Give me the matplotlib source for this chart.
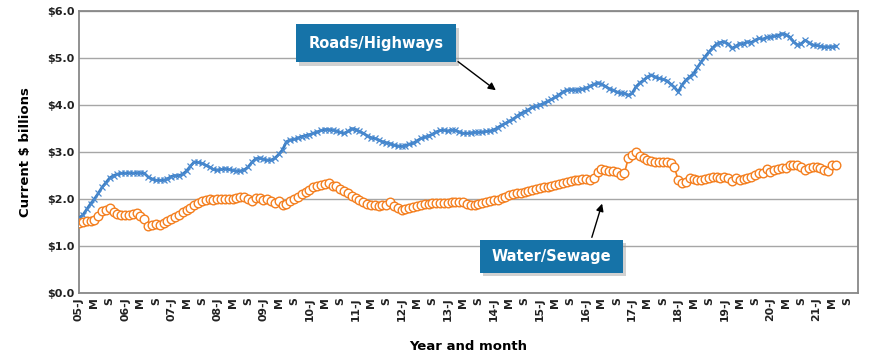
import matplotlib
matplotlib.use("Agg")
import matplotlib.pyplot as plt
from matplotlib.patches import Rectangle
import numpy as np

# monthly values, Jan 2005 .. Jun 2021 (current $ billions)
roads = [
    1.60, 1.66, 1.78, 1.90, 2.00, 2.12, 2.25, 2.35, 2.45, 2.50, 2.53, 2.55,  # 2005
    2.55, 2.56, 2.55, 2.56, 2.56, 2.55, 2.47, 2.43, 2.40, 2.40, 2.40, 2.43,  # 2006
    2.48, 2.50, 2.50, 2.53, 2.60, 2.70, 2.79, 2.78, 2.76, 2.72, 2.68, 2.63,  # 2007
    2.62, 2.63, 2.65, 2.63, 2.61, 2.60, 2.60, 2.62, 2.68, 2.78, 2.86, 2.87,  # 2008
    2.85, 2.83, 2.83, 2.87, 2.95, 3.05, 3.22, 3.26, 3.27, 3.30, 3.33, 3.35,  # 2009
    3.37, 3.40, 3.43, 3.46, 3.48, 3.48, 3.47, 3.45, 3.42, 3.40, 3.44, 3.50,  # 2010
    3.48, 3.44, 3.40, 3.35, 3.31, 3.29, 3.26, 3.22, 3.20, 3.18, 3.15, 3.13,  # 2011
    3.12, 3.14, 3.17, 3.19, 3.24, 3.29, 3.32, 3.34, 3.38, 3.43, 3.46, 3.47,  # 2012
    3.45, 3.47, 3.46, 3.43, 3.40, 3.40, 3.41, 3.42, 3.42, 3.43, 3.44, 3.45,  # 2013
    3.47, 3.52, 3.57, 3.61, 3.66, 3.70, 3.76, 3.82, 3.86, 3.90, 3.95, 3.98,  # 2014
    4.00, 4.04, 4.08, 4.12, 4.17, 4.22, 4.28, 4.32, 4.33, 4.32, 4.33, 4.34,  # 2015
    4.36, 4.40, 4.44, 4.47, 4.45, 4.40, 4.35, 4.32, 4.28, 4.26, 4.25, 4.21,  # 2016
    4.25, 4.39, 4.47, 4.53, 4.60, 4.64, 4.60, 4.57, 4.55, 4.52, 4.45, 4.38,  # 2017
    4.28, 4.43, 4.53, 4.60, 4.67, 4.80, 4.92, 5.03, 5.13, 5.22, 5.30, 5.33,  # 2018
    5.35, 5.30, 5.21, 5.25, 5.31, 5.30, 5.35, 5.33, 5.38, 5.42, 5.40, 5.44,  # 2019
    5.45, 5.47, 5.48, 5.52, 5.50, 5.45, 5.35, 5.28, 5.30, 5.38, 5.33, 5.28,  # 2020
    5.27, 5.25, 5.24, 5.24, 5.24, 5.25,                                      # 2021
]

water = [
    1.50, 1.52, 1.53, 1.53, 1.55, 1.65, 1.75, 1.77, 1.80, 1.72, 1.68, 1.67,  # 2005
    1.66, 1.67, 1.68, 1.70, 1.65, 1.58, 1.43, 1.45, 1.47, 1.45, 1.50, 1.53,  # 2006
    1.57, 1.62, 1.67, 1.72, 1.76, 1.80, 1.87, 1.92, 1.95, 1.98, 2.00, 1.97,  # 2007
    2.00, 2.00, 2.00, 2.00, 2.01, 2.03, 2.05, 2.04, 2.00, 1.96, 2.03, 2.02,  # 2008
    1.98, 2.00, 1.96, 1.92, 1.95, 1.88, 1.90, 1.95, 2.00, 2.05, 2.10, 2.15,  # 2009
    2.20, 2.25, 2.28, 2.30, 2.32, 2.35, 2.27, 2.28, 2.22, 2.18, 2.12, 2.07,  # 2010
    2.02, 1.97, 1.93, 1.90, 1.88, 1.87, 1.86, 1.87, 1.88, 1.93, 1.85, 1.80,  # 2011
    1.77, 1.79, 1.80, 1.83, 1.85, 1.87, 1.89, 1.90, 1.91, 1.91, 1.91, 1.92,  # 2012
    1.92, 1.93, 1.93, 1.94, 1.93, 1.90, 1.87, 1.88, 1.90, 1.92, 1.93, 1.95,  # 2013
    1.97, 1.99, 2.02, 2.05, 2.08, 2.10, 2.12, 2.14, 2.15, 2.17, 2.20, 2.22,  # 2014
    2.23, 2.25, 2.26, 2.28, 2.30, 2.33, 2.35, 2.37, 2.38, 2.40, 2.41, 2.42,  # 2015
    2.42, 2.40, 2.45, 2.58, 2.63, 2.61, 2.60, 2.59, 2.57, 2.51, 2.55, 2.87,  # 2016
    2.94, 3.00, 2.92, 2.87, 2.83, 2.80, 2.79, 2.78, 2.78, 2.78, 2.77, 2.68,  # 2017
    2.40, 2.35, 2.37, 2.44, 2.43, 2.40, 2.40, 2.43, 2.44, 2.47, 2.47, 2.45,  # 2018
    2.47, 2.45, 2.38, 2.44, 2.40, 2.42, 2.44, 2.48, 2.51, 2.55, 2.56, 2.64,  # 2019
    2.58, 2.62, 2.65, 2.67, 2.66, 2.72, 2.73, 2.73, 2.68, 2.62, 2.66, 2.68,  # 2020
    2.68, 2.67, 2.62, 2.60, 2.72, 2.73,                                      # 2021
]

years = [f"{y:02d}" for y in range(5, 22)]
tick_labels = []
for yy in years:
    tick_labels += [f"{yy}-J", "M", "S"]

y_ticks = [0, 1, 2, 3, 4, 5, 6]

BLUE = "#3a7cc0"
ORANGE = "#f47f1f"
BOX = "#1673a8"
FONT = "DejaVu Sans"

fig = plt.figure(figsize=(8.7, 3.57), dpi=100)
ax = fig.add_axes([0.0908, 0.179, 0.8954, 0.790])

x = np.arange(len(roads))
ax.plot(x, roads, color=BLUE, lw=2.0, marker="x", ms=4.8, mew=0.9,
        mec="#4a8ad0", zorder=3)
x2 = np.arange(len(water))
ax.plot(x2, water, color=ORANGE, lw=1.2, marker="o", ms=6.2, mew=1.0,
        mec=ORANGE, mfc="white", zorder=3)

ax.set_xlim(0, 202.8)
ax.set_ylim(0, 6)
ax.set_yticks(y_ticks)
ax.set_yticklabels([f"${v:.1f}" for v in y_ticks], fontsize=8,
                   fontweight="bold", family=FONT, color="#222222")
ax.set_xticks(np.arange(len(tick_labels)) * 4)
ax.set_xticklabels(tick_labels, rotation=90, fontsize=7.8,
                   fontweight="bold", family=FONT, color="#222222")
ax.tick_params(axis="both", length=0, pad=3)

ax.grid(axis="y", color="#a6a6a6", lw=1.0)
ax.set_axisbelow(True)
for s in ax.spines.values():
    s.set_color("#888888")
    s.set_linewidth(1.3)

ax.set_ylabel("Current $ billions", fontsize=9.5, fontweight="bold",
              family=FONT, labelpad=11)
ax.set_xlabel("Year and month", fontsize=9.5, fontweight="bold",
              family=FONT, labelpad=14)


def callout(x0, x1, y0, y1, label):
    ax.add_patch(Rectangle((x0 + 0.9, y0 - 0.07), x1 - x0, y1 - y0,
                           facecolor="#999999", alpha=0.45, lw=0, zorder=4))
    ax.add_patch(Rectangle((x0, y0), x1 - x0, y1 - y0, facecolor=BOX,
                           lw=0, zorder=5))
    ax.text((x0 + x1) / 2, (y0 + y1) / 2, label, color="white",
            fontsize=10.5, fontweight="bold", family=FONT,
            ha="center", va="center", zorder=6)


callout(56.5, 98.1, 4.91, 5.72, "Roads/Highways")
ax.annotate("", xy=(109.1, 4.28), xytext=(98.1, 4.96),
            arrowprops=dict(arrowstyle="-|>", color="black", lw=1.0,
                            mutation_scale=11), zorder=6)

callout(104.4, 141.6, 0.43, 1.13, "Water/Sewage")
ax.annotate("", xy=(136.4, 1.96), xytext=(133.3, 1.13),
            arrowprops=dict(arrowstyle="-|>", color="black", lw=1.0,
                            mutation_scale=11), zorder=6)

fig.savefig("out.png", dpi=100)
